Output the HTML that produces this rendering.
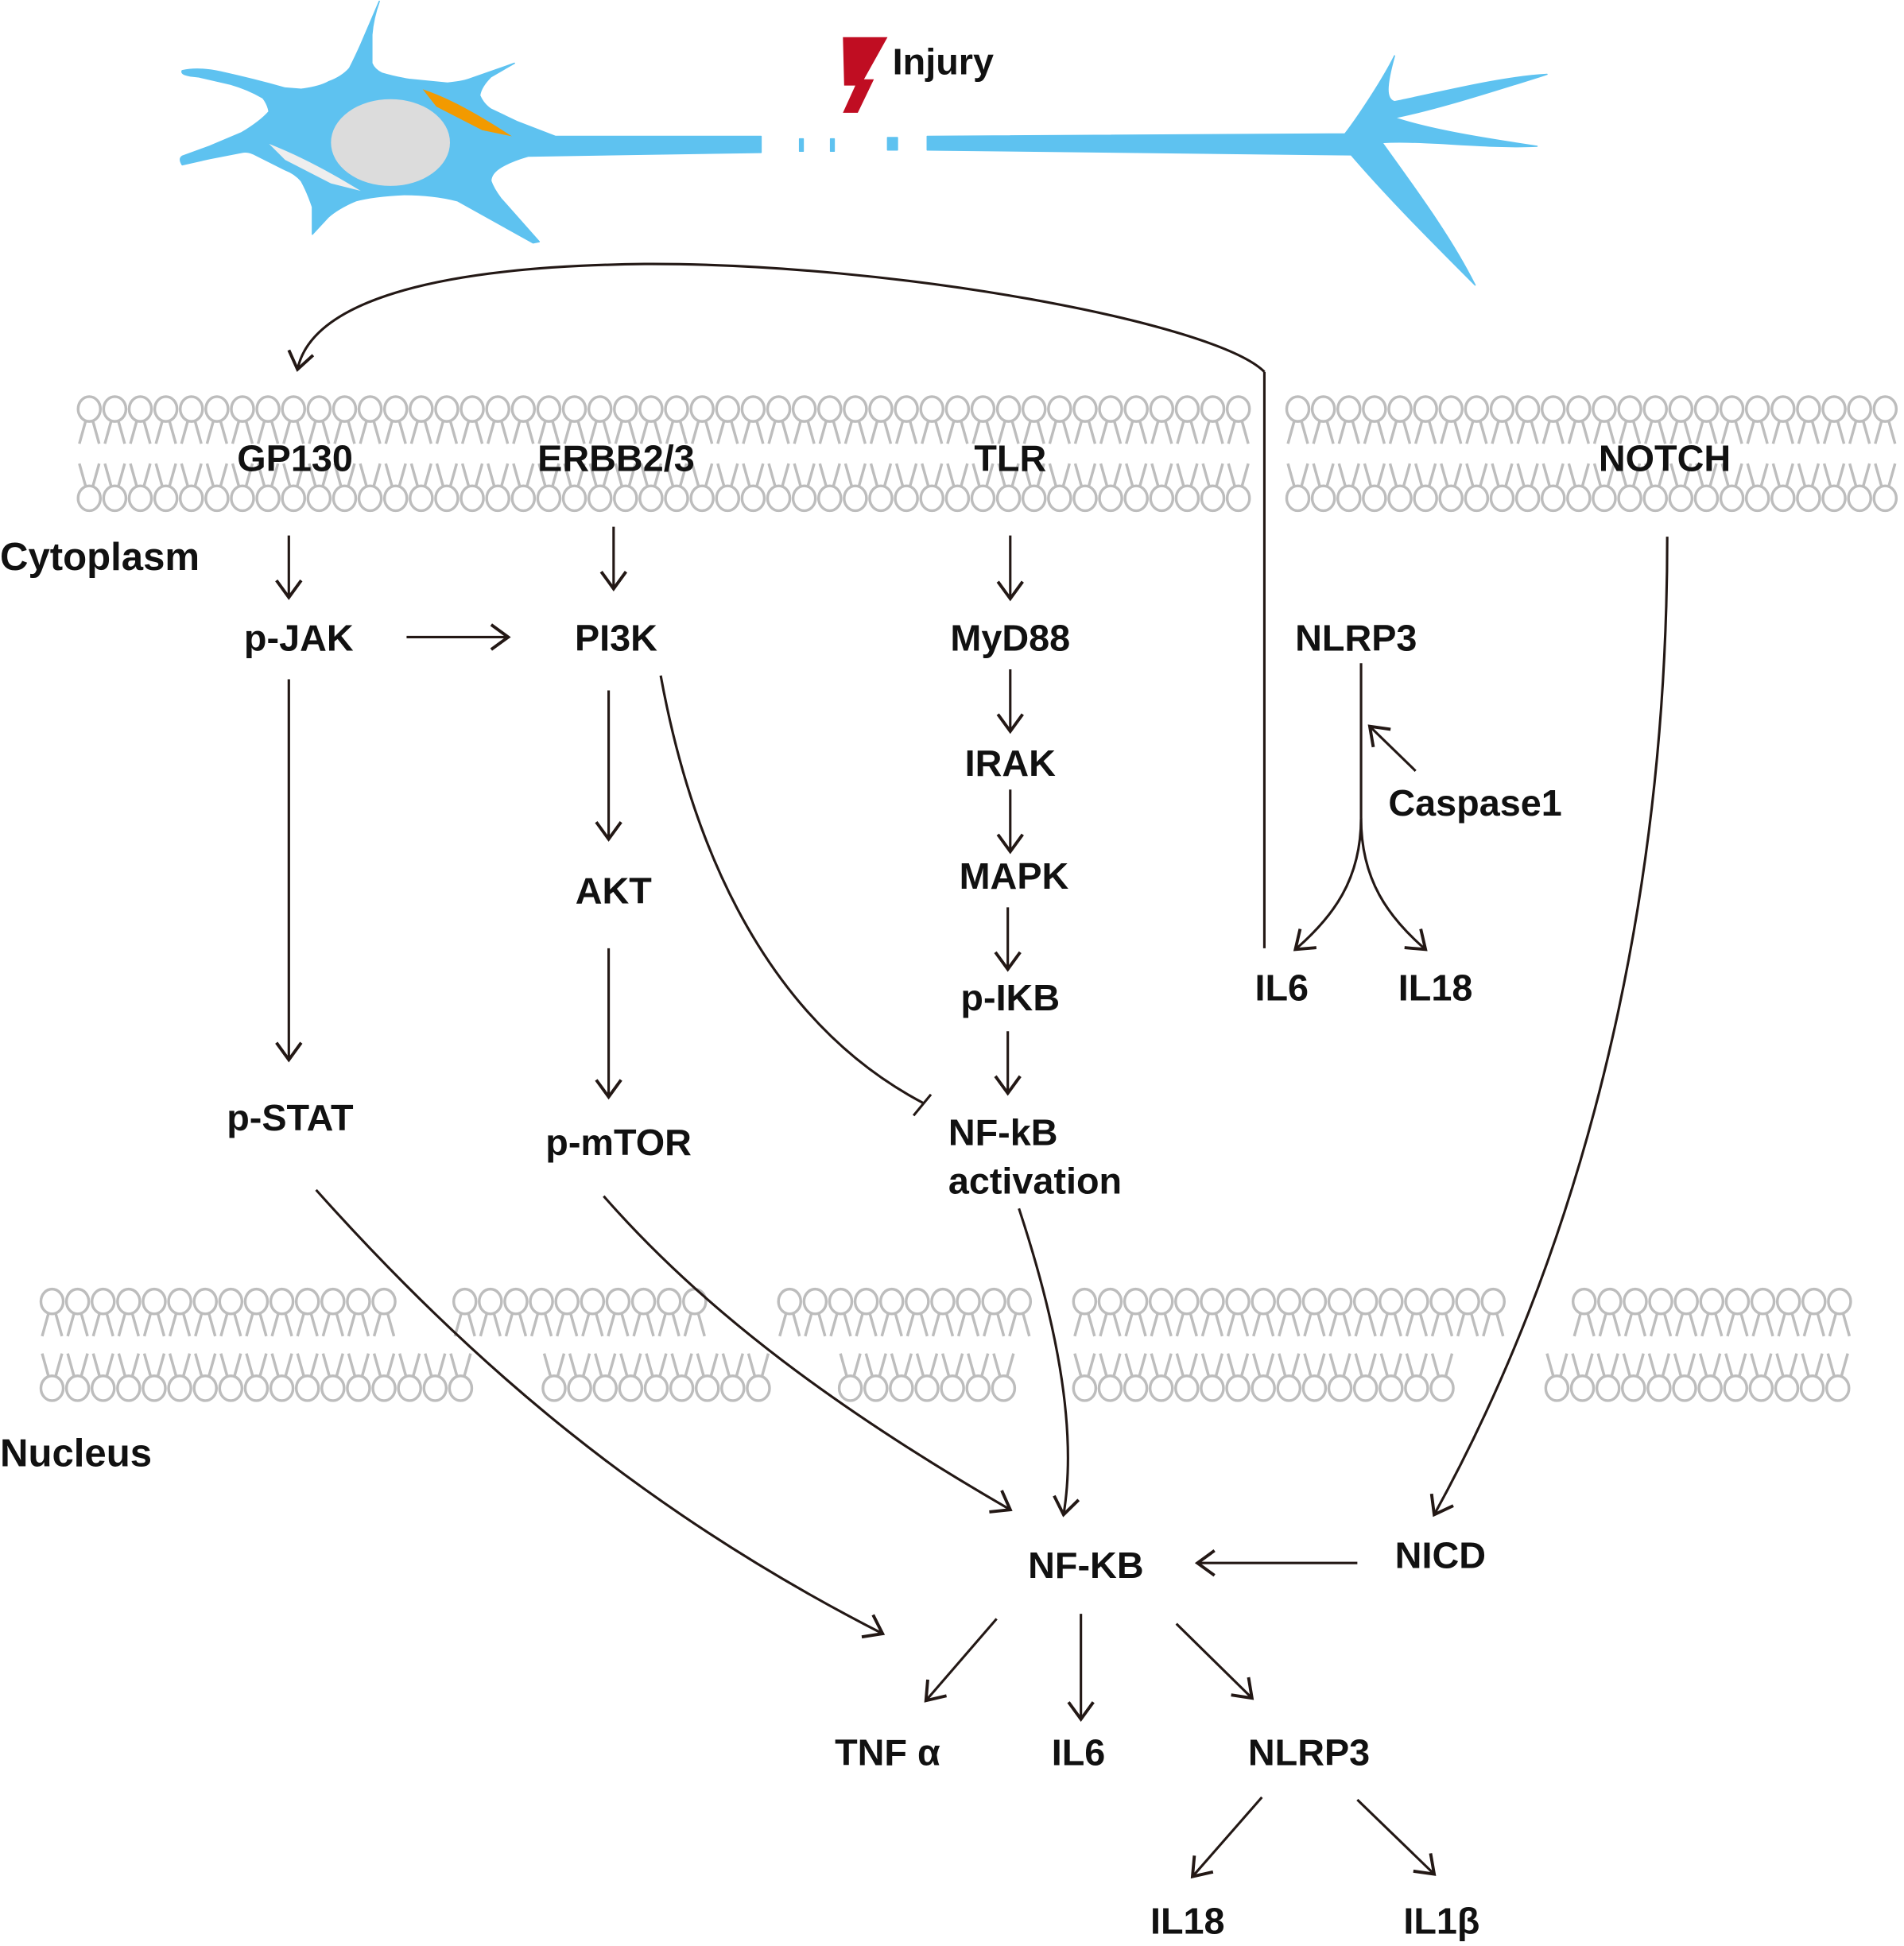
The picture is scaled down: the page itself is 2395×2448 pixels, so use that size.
<!DOCTYPE html>
<html><head><meta charset="utf-8"><style>
html,body{margin:0;padding:0;background:#fff}
svg{display:block}
text{font-family:"Liberation Sans",Arial,sans-serif;font-weight:bold;fill:#111;font-size:30px}
</style></head><body>
<svg id="s" width="2395" height="2448" viewBox="0 0 1536 1570" xmlns="http://www.w3.org/2000/svg">
<defs>
<marker id="a" markerUnits="userSpaceOnUse" markerWidth="30" markerHeight="30" viewBox="-2 -12 16 24" refX="11" refY="0" orient="auto">
<path d="M0,-8 L11,0 L0,8" fill="none" stroke="#231815" stroke-width="2"/>
</marker>
</defs>
<g id="mem" fill="none" stroke="#bdbdbd" stroke-width="2.2"></g>
<!-- neuron -->
<g fill="#5ec2f0" stroke="#5ec2f0" stroke-width="1" stroke-linejoin="round">
<path d="M147,57 Q160,54 178,58 Q205,64 230,71 L243,72 Q258,70 265,66 Q276,62 282,55 Q287,45 291,36 L306,1 Q301,15 300,28 L300,51 Q302,56 308,59 Q318,62 330,64 L361,67 Q372,66 378,64 L415,51 L396,62 Q388,70 387,77 Q390,84 396,88 L417,98 L448,110 L614,110 L614,123 L426,126 Q412,130 404,135 Q396,140 396,146 Q398,152 404,160 L435,195 L430,196 L369,162 Q350,157 326,157 Q302,158 287,162 Q273,168 265,175 L252,189 L252,167 Q248,155 243,146 Q238,140 230,137 L204,124 Q199,122 195,123 L169,128 L147,133 Q144,128 147,126 L169,118 L195,107 Q210,98 217,90 Q216,84 212,79 Q200,72 186,68 L160,62 Q145,61 147,57 Z"/>
<rect x="645" y="112" width="3" height="10"/>
<rect x="670" y="112" width="3" height="10"/>
<rect x="716" y="111" width="8" height="10"/>
<path d="M748,110 L1085,108 C1095,95 1115,65 1125,45 C1118,70 1118,80 1125,82 C1160,75 1210,62 1248,60 C1210,72 1160,88 1125,95 C1155,105 1200,112 1240,118 C1200,120 1150,113 1115,115 C1140,150 1170,190 1190,230 C1160,200 1120,160 1090,125 L748,121 Z"/>
</g>
<ellipse cx="315" cy="115" rx="48" ry="35" fill="#dcdcdc"/>
<path d="M341,72 L352,86 L389,105 L413,110 C390,95 365,80 341,72 Z" fill="#f29a00"/>
<path d="M217,116 L230,129 L267,148 L291,154 C265,138 240,125 217,116 Z" fill="#eeeeee"/>
<path d="M680,30 L716,30 L697,64 L705,64 L692,91 L680,91 L690,69 L681,69 Z" fill="#c00d22"/>
<text x="720" y="60">Injury</text>

<g fill="none" stroke="#231815" stroke-width="2">
<path d="M1020,300 C980,260 720,212 520,213 C330,215 250,250 240,298" marker-end="url(#a)"/>
<path d="M1020,300 L1020,765"/>
<path d="M233,432 L233,482" marker-end="url(#a)"/>
<path d="M495,425 L495,475" marker-end="url(#a)"/>
<path d="M815,432 L815,483" marker-end="url(#a)"/>
<path d="M328,514 L410,514" marker-end="url(#a)"/>
<path d="M233,548 L233,855" marker-end="url(#a)"/>
<path d="M491,557 L491,677" marker-end="url(#a)"/>
<path d="M491,765 L491,885" marker-end="url(#a)"/>
<path d="M533,545 C565,720 640,835 745,890"/>
<path d="M737,900 L751,883"/>
<path d="M815,540 L815,590" marker-end="url(#a)"/>
<path d="M815,637 L815,687" marker-end="url(#a)"/>
<path d="M813,732 L813,782" marker-end="url(#a)"/>
<path d="M813,832 L813,882" marker-end="url(#a)"/>
<path d="M822,975 C850,1060 870,1150 858,1222" marker-end="url(#a)"/>
<path d="M255,960 C380,1100 520,1220 712,1318" marker-end="url(#a)"/>
<path d="M487,965 C570,1060 680,1140 815,1218" marker-end="url(#a)"/>
<path d="M1345,433 C1345,700 1290,980 1157,1222" marker-end="url(#a)"/>
<path d="M1095,1261 L966,1261" marker-end="url(#a)"/>
<path d="M804,1306 L747,1372" marker-end="url(#a)"/>
<path d="M872,1302 L872,1387" marker-end="url(#a)"/>
<path d="M949,1310 L1010,1370" marker-end="url(#a)"/>
<path d="M1018,1450 L962,1514" marker-end="url(#a)"/>
<path d="M1095,1452 L1157,1512" marker-end="url(#a)"/>
<path d="M1098,535 L1098,660"/>
<path d="M1098,660 C1098,710 1075,740 1045,766" marker-end="url(#a)"/>
<path d="M1098,660 C1098,710 1120,740 1150,766" marker-end="url(#a)"/>
<path d="M1142,622 L1105,586" marker-end="url(#a)"/>
</g>

<g text-anchor="middle">
<text x="238" y="380">GP130</text>
<text x="497" y="380">ERBB2/3</text>
<text x="815" y="380">TLR</text>
<text x="1343" y="380">NOTCH</text>
<text x="241" y="525">p-JAK</text>
<text x="497" y="525">PI3K</text>
<text x="815" y="525">MyD88</text>
<text x="1094" y="525">NLRP3</text>
<text x="815" y="626">IRAK</text>
<text x="818" y="717">MAPK</text>
<text x="815" y="815">p-IKB</text>
<text x="495" y="729">AKT</text>
<text x="499" y="932">p-mTOR</text>
<text x="234" y="912">p-STAT</text>
<text x="1034" y="807">IL6</text>
<text x="1158" y="807">IL18</text>
<text x="876" y="1273">NF-KB</text>
<text x="1162" y="1265">NICD</text>
<text x="716" y="1424">TNF α</text>
<text x="870" y="1424">IL6</text>
<text x="1056" y="1424">NLRP3</text>
<text x="958" y="1560">IL18</text>
<text x="1163" y="1560">IL1β</text>
</g>
<text x="765" y="924">NF-kB</text>
<text x="765" y="963">activation</text>
<text x="1120" y="658">Caspase1</text>
<text x="0" y="460" style="font-size:31.5px">Cytoplasm</text>
<text x="0" y="1183" style="font-size:31.5px">Nucleus</text>
</svg>
<script>
(function(){
var g=document.getElementById('mem'),h='';
function row(x0,x1,hy,up){
 for(var x=x0;x<=x1+0.1;x+=20.6){
  h+='<ellipse cx="'+x.toFixed(1)+'" cy="'+hy+'" rx="9" ry="10"/>';
  if(up){
   h+='<path d="M'+(x-3)+','+(hy+10)+' L'+(x-8)+','+(hy+28)+' M'+(x+3)+','+(hy+10)+' L'+(x+8)+','+(hy+28)+'"/>';
  }else{
   h+='<path d="M'+(x-3)+','+(hy-10)+' L'+(x-8)+','+(hy-28)+' M'+(x+3)+','+(hy-10)+' L'+(x+8)+','+(hy-28)+'"/>';
  }
 }
}
row(72,1000,330,1);row(72,1000,402,0);
row(1047,1522,330,1);row(1047,1522,402,0);
row(42,326,1050,1);row(375,565,1050,1);row(637,828,1050,1);row(875,1208,1050,1);row(1278,1492,1050,1);
row(42,375,1120,0);row(447,612,1120,0);row(686,826,1120,0);row(875,1183,1120,0);row(1256,1492,1120,0);
g.innerHTML=h;
})();
</script>
</body></html>
